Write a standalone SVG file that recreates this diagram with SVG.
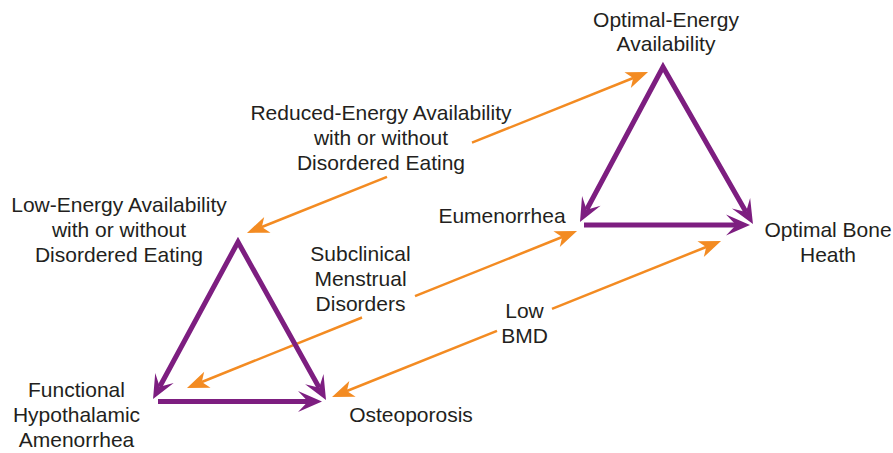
<svg xmlns="http://www.w3.org/2000/svg" width="893" height="453" viewBox="0 0 893 453">
  <style>
    .lbl { font-family: "Liberation Sans", Arial, sans-serif; font-size: 21px; fill: #231f20; text-anchor: middle; }
    .tri { fill: none; stroke: #7d1e80; stroke-width: 5; stroke-linejoin: miter; stroke-miterlimit: 6; }
    .flow { fill: none; stroke: #f38b22; stroke-width: 2.5; }
  </style>
  <defs>
    <!-- purple notched head: notch at the path end, tip 14px beyond -->
    <marker id="headP" viewBox="-10 -11 26 22" refX="0" refY="0" markerWidth="26" markerHeight="22" markerUnits="userSpaceOnUse" orient="auto-start-reverse" overflow="visible">
      <path d="M14,0 L-10,-10.5 L0,0 L-10,10.5 Z" fill="#7d1e80"/>
    </marker>
    <!-- orange head: notch at the path end, tip 16px beyond -->
    <marker id="headO" viewBox="-6 -9 22 18" refX="0" refY="0" markerWidth="22" markerHeight="18" markerUnits="userSpaceOnUse" orient="auto" overflow="visible">
      <path d="M16,0 L-6,-8.5 L0,0 L-6,8.5 Z" fill="#f38b22"/>
    </marker>
  </defs>

  <!-- orange transition connectors -->
  <g id="connectors">
    <path class="flow" d="M472,142.7 L633.2,78" marker-end="url(#headO)"/>
    <path class="flow" d="M387,176.8 L261.8,227" marker-end="url(#headO)"/>
    <path class="flow" d="M415,296.2 L562.2,237" marker-end="url(#headO)"/>
    <path class="flow" d="M362,317.5 L201.8,382" marker-end="url(#headO)"/>
    <path class="flow" d="M552,308.8 L706.2,247" marker-end="url(#headO)"/>
    <path class="flow" d="M497,330.8 L346.9,391" marker-end="url(#headO)"/>
  </g>

  <!-- upper triangle (healthy) -->
  <g id="triangle-upper">
    <path class="tri" d="M586.6,209.7 L663,67 L746,211.9" marker-start="url(#headP)" marker-end="url(#headP)"/>
    <path class="tri" d="M584,225 L736,225" marker-end="url(#headP)"/>
  </g>

  <!-- lower triangle (triad) -->
  <g id="triangle-lower">
    <path class="tri" d="M159.7,386.7 L238,242 L319.2,387.8" marker-start="url(#headP)" marker-end="url(#headP)"/>
    <path class="tri" d="M158,401.5 L308,401.5" marker-end="url(#headP)"/>
  </g>

  <g id="node-optimal-energy">
    <text class="lbl" x="666" y="26.5">Optimal-Energy</text>
    <text class="lbl" x="666" y="51">Availability</text>
  </g>
  <g id="node-eumenorrhea">
    <text class="lbl" x="502" y="223">Eumenorrhea</text>
  </g>
  <g id="node-optimal-bone">
    <text class="lbl" x="828" y="237">Optimal Bone</text>
    <text class="lbl" x="828" y="262">Heath</text>
  </g>
  <g id="node-low-energy">
    <text class="lbl" x="119" y="212">Low-Energy Availability</text>
    <text class="lbl" x="119" y="237">with or without</text>
    <text class="lbl" x="119" y="262">Disordered Eating</text>
  </g>
  <g id="node-fha">
    <text class="lbl" x="76.5" y="397">Functional</text>
    <text class="lbl" x="76.5" y="422">Hypothalamic</text>
    <text class="lbl" x="76.5" y="447">Amenorrhea</text>
  </g>
  <g id="node-osteoporosis">
    <text class="lbl" x="411" y="421.5">Osteoporosis</text>
  </g>

  <!-- spectrum labels -->
  <g id="label-reduced-energy">
    <text class="lbl" x="381" y="120">Reduced-Energy Availability</text>
    <text class="lbl" x="381" y="145">with or without</text>
    <text class="lbl" x="381" y="170">Disordered Eating</text>
  </g>
  <g id="label-subclinical">
    <text class="lbl" x="360.5" y="261">Subclinical</text>
    <text class="lbl" x="360.5" y="286">Menstrual</text>
    <text class="lbl" x="360.5" y="311">Disorders</text>
  </g>
  <g id="label-low-bmd">
    <text class="lbl" x="524.5" y="318">Low</text>
    <text class="lbl" x="524.5" y="343">BMD</text>
  </g>
</svg>
